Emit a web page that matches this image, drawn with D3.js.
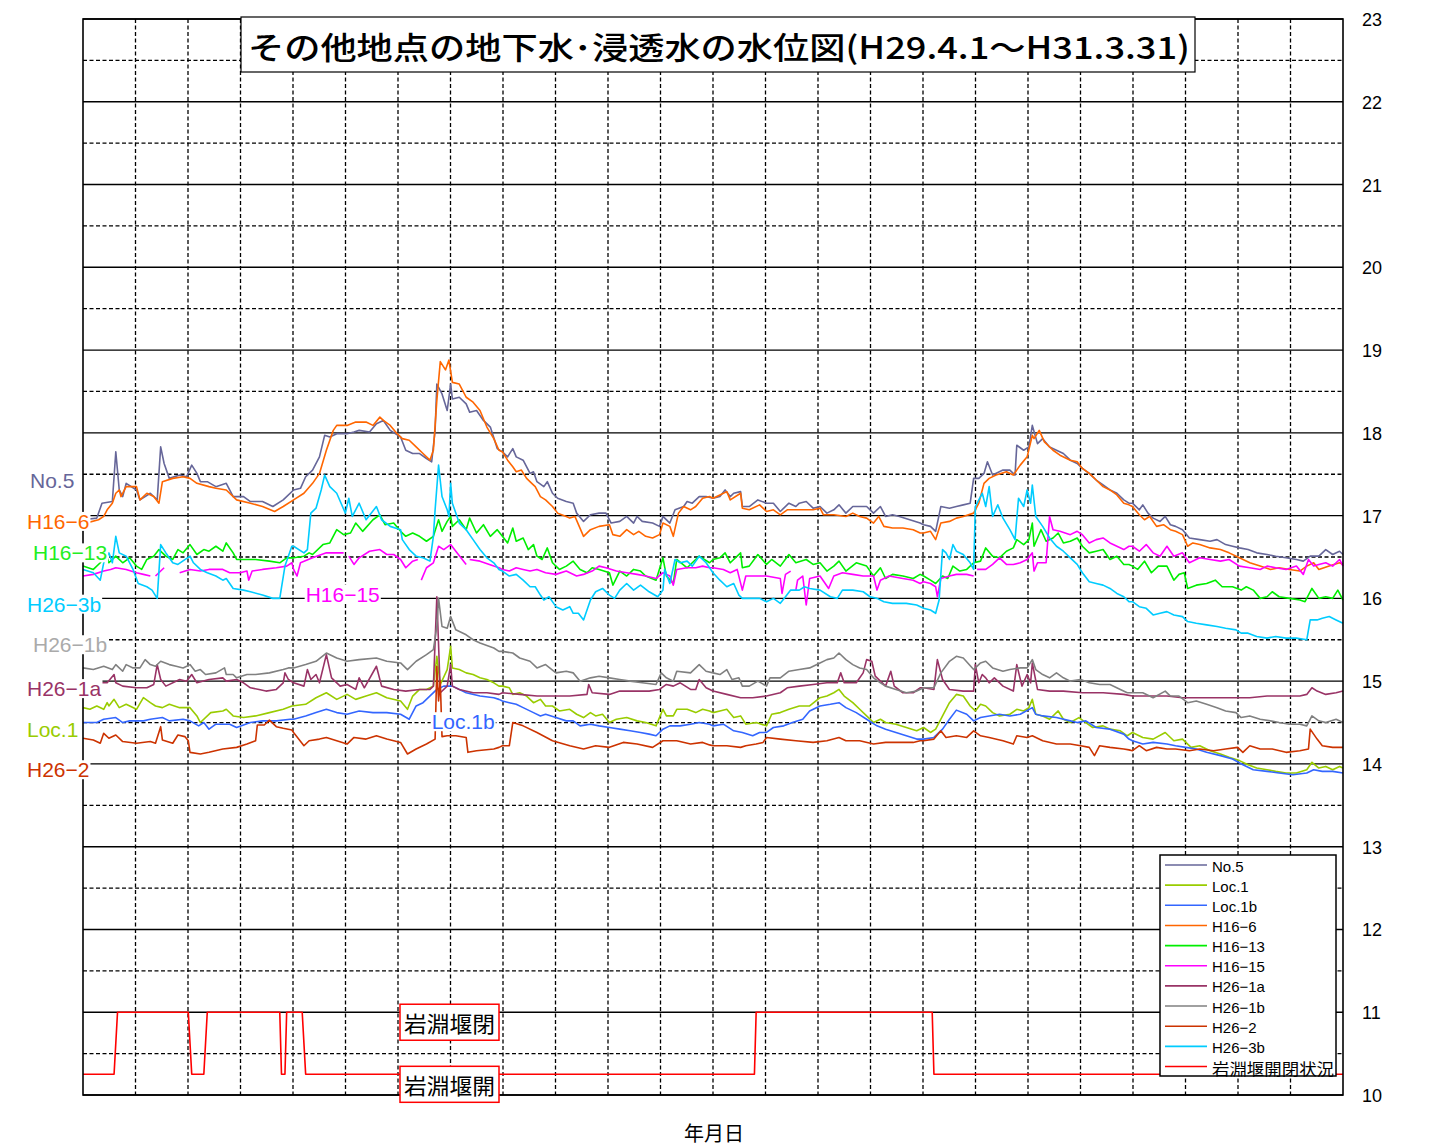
<!DOCTYPE html>
<html>
<head>
<meta charset="utf-8">
<script src="https://cdn.jsdelivr.net/npm/d3@7"></script>
<style>
body { margin: 0; background: #fff; }
</style>
</head>
<body>
<div id="chart"></div>
<script>
const width = 1430
const height = 1146

/* Period: H29.4.1 - H31.3.31, values are [days since 2017-04-01, water level (m)] */
const start = new Date(Date.UTC(2017, 3, 1))
const totalDays = 730

const no5 = [[0,16.95],[8,16.97],[11,17.15],[17,17.17],[19,17.77],[21,17.31],[23,17.23],[25,17.39],[31,17.31],[33,17.19],[39,17.27],[43,17.19],[45,17.83],[47,17.63],[50,17.45],[56,17.49],[60,17.47],[63,17.61],[66,17.51],[68,17.41],[72,17.41],[77,17.35],[83,17.39],[87,17.23],[93,17.23],[97,17.17],[104,17.17],[110,17.11],[116,17.19],[122,17.31],[126,17.33],[129,17.47],[133,17.55],[137,17.71],[140,17.97],[143,17.95],[147,17.99],[153,17.99],[157,18.01],[160,18.03],[166,18.01],[170,18.11],[174,18.15],[178,18.03],[184,17.95],[187,17.79],[191,17.75],[195,17.75],[199,17.69],[202,17.65],[204,18.03],[205,18.59],[208,18.47],[211,18.27],[213,18.59],[214,18.41],[218,18.43],[222,18.35],[224,18.25],[228,18.27],[232,18.15],[236,18.07],[240,17.81],[243,17.77],[246,17.71],[249,17.81],[251,17.71],[255,17.67],[259,17.51],[261,17.53],[263,17.41],[267,17.35],[269,17.41],[272,17.27],[275,17.21],[280,17.17],[284,17.15],[286,17.03],[290,16.93],[294,17.01],[299,17.03],[303,17.03],[306,16.91],[311,16.93],[315,16.99],[319,16.91],[321,16.99],[324,16.93],[330,16.91],[334,16.87],[336,16.99],[340,16.91],[343,17.07],[348,17.11],[350,17.17],[353,17.15],[357,17.23],[361,17.23],[365,17.21],[369,17.23],[372,17.31],[375,17.23],[377,17.27],[381,17.29],[382,17.11],[386,17.11],[391,17.19],[396,17.15],[400,17.15],[404,17.05],[409,17.15],[413,17.11],[415,17.15],[419,17.17],[423,17.09],[427,17.11],[431,17.03],[435,17.07],[438,17.13],[442,17.03],[446,17.11],[450,17.11],[454,17.11],[458,17.03],[462,17.11],[465,16.99],[469,17.01],[473,16.99],[479,16.95],[485,16.91],[487,16.89],[491,16.87],[494,16.81],[497,17.11],[502,17.09],[506,17.11],[510,17.13],[514,17.15],[516,17.45],[519,17.45],[522,17.51],[524,17.65],[527,17.49],[533,17.55],[537,17.55],[540,17.49],[541,17.85],[545,17.79],[548,17.83],[550,18.09],[553,17.87],[556,17.93],[560,17.83],[564,17.79],[568,17.75],[572,17.67],[576,17.63],[579,17.57],[583,17.51],[587,17.43],[591,17.37],[595,17.31],[599,17.27],[603,17.19],[606,17.15],[608,17.15],[612,17.07],[614,17.13],[617,17.03],[620,16.97],[624,16.93],[627,16.99],[630,16.89],[633,16.87],[637,16.83],[641,16.73],[647,16.71],[653,16.69],[657,16.71],[662,16.65],[666,16.63],[670,16.61],[675,16.59],[680,16.55],[686,16.53],[691,16.51],[697,16.49],[703,16.47],[707,16.45],[711,16.51],[716,16.51],[720,16.59],[724,16.53],[728,16.57],[730,16.53]]

const loc1 = [[0,14.68],[4,14.66],[8,14.7],[12,14.66],[14,14.74],[15,14.7],[18,14.78],[21,14.68],[25,14.72],[31,14.66],[35,14.8],[39,14.74],[42,14.7],[46,14.68],[50,14.72],[56,14.68],[62,14.68],[66,14.58],[68,14.5],[74,14.62],[81,14.64],[83,14.66],[87,14.58],[93,14.56],[100,14.58],[108,14.62],[116,14.66],[121,14.7],[129,14.72],[135,14.8],[141,14.86],[147,14.78],[153,14.84],[158,14.78],[164,14.82],[170,14.86],[176,14.8],[184,14.76],[188,14.66],[191,14.82],[195,14.9],[199,14.9],[203,14.94],[205,15.3],[207,14.96],[211,15.14],[213,15.42],[214,15.16],[218,15.14],[222,15.1],[226,15.08],[230,15.04],[234,15.02],[238,14.98],[241,14.94],[243,14.94],[247,14.92],[249,14.84],[253,14.86],[257,14.82],[261,14.74],[265,14.78],[268,14.7],[272,14.7],[276,14.64],[282,14.66],[286,14.6],[290,14.56],[294,14.62],[297,14.58],[301,14.6],[305,14.5],[309,14.54],[315,14.56],[321,14.52],[326,14.5],[332,14.46],[336,14.66],[338,14.58],[342,14.58],[344,14.66],[350,14.66],[355,14.62],[359,14.66],[363,14.64],[365,14.62],[369,14.64],[373,14.66],[377,14.56],[381,14.58],[384,14.48],[390,14.5],[396,14.46],[399,14.6],[404,14.62],[409,14.66],[415,14.7],[421,14.7],[427,14.8],[431,14.82],[435,14.86],[438,14.9],[441,14.82],[446,14.74],[450,14.66],[454,14.58],[458,14.5],[462,14.54],[465,14.5],[471,14.48],[477,14.44],[483,14.4],[487,14.44],[491,14.38],[494,14.42],[498,14.58],[502,14.74],[506,14.84],[510,14.82],[514,14.7],[517,14.64],[520,14.72],[523,14.7],[527,14.62],[531,14.58],[537,14.6],[541,14.66],[545,14.64],[548,14.68],[550,14.78],[552,14.6],[556,14.58],[560,14.54],[565,14.64],[568,14.54],[572,14.5],[577,14.56],[581,14.5],[585,14.44],[591,14.46],[595,14.42],[601,14.4],[605,14.34],[608,14.38],[614,14.32],[620,14.3],[627,14.38],[632,14.28],[637,14.3],[642,14.2],[647,14.22],[653,14.16],[659,14.12],[664,14.08],[670,14.04],[675,13.99],[680,13.95],[686,13.93],[691,13.91],[697,13.89],[703,13.89],[709,13.93],[712,14.02],[716,13.95],[720,13.97],[724,13.93],[728,13.97],[730,13.95]]

const loc1b = [[0,14.5],[8,14.5],[12,14.54],[19,14.56],[23,14.5],[27,14.52],[35,14.52],[39,14.54],[46,14.56],[50,14.52],[58,14.54],[62,14.52],[67,14.46],[70,14.5],[73,14.42],[77,14.48],[85,14.48],[89,14.44],[97,14.5],[104,14.52],[112,14.52],[120,14.54],[122,14.54],[129,14.58],[135,14.62],[141,14.66],[147,14.62],[153,14.6],[160,14.64],[168,14.62],[176,14.62],[184,14.6],[189,14.54],[193,14.7],[197,14.74],[205,14.9],[209,14.94],[214,14.94],[222,14.86],[230,14.82],[238,14.8],[241,14.78],[243,14.76],[247,14.74],[251,14.72],[255,14.68],[261,14.62],[265,14.58],[268,14.6],[274,14.56],[280,14.52],[284,14.52],[288,14.46],[294,14.48],[299,14.46],[305,14.44],[311,14.42],[317,14.4],[323,14.38],[328,14.36],[332,14.34],[336,14.42],[340,14.46],[346,14.46],[352,14.48],[357,14.5],[363,14.48],[365,14.46],[371,14.48],[377,14.4],[382,14.38],[388,14.34],[392,14.38],[396,14.38],[400,14.44],[406,14.46],[411,14.5],[417,14.54],[421,14.64],[427,14.7],[433,14.72],[438,14.74],[442,14.68],[448,14.62],[454,14.54],[460,14.46],[465,14.42],[471,14.38],[477,14.34],[483,14.3],[487,14.3],[493,14.32],[498,14.42],[502,14.54],[506,14.65],[512,14.6],[516,14.52],[520,14.56],[525,14.58],[531,14.6],[537,14.58],[543,14.6],[550,14.68],[552,14.6],[556,14.58],[564,14.56],[572,14.52],[576,14.5],[581,14.52],[587,14.44],[595,14.42],[603,14.36],[606,14.3],[608,14.28],[614,14.24],[620,14.26],[628,14.24],[633,14.22],[639,14.2],[645,14.18],[651,14.14],[659,14.1],[666,14.06],[672,13.99],[678,13.93],[686,13.91],[693,13.89],[701,13.87],[709,13.89],[713,13.93],[718,13.91],[724,13.91],[730,13.89]]

const h16_6 = [[0,16.9],[9,16.95],[12,16.99],[14,17.07],[17,17.15],[19,17.27],[21,17.31],[22,17.23],[25,17.35],[31,17.35],[33,17.19],[37,17.27],[41,17.23],[44,17.15],[46,17.41],[52,17.45],[58,17.47],[62,17.45],[66,17.39],[73,17.35],[77,17.33],[83,17.31],[89,17.19],[97,17.15],[104,17.11],[111,17.05],[116,17.11],[122,17.19],[128,17.27],[133,17.39],[137,17.51],[141,17.79],[145,18.03],[147,18.09],[153,18.09],[158,18.13],[164,18.13],[168,18.09],[172,18.19],[174,18.15],[178,18.09],[182,17.99],[185,17.93],[189,17.91],[193,17.83],[197,17.75],[201,17.67],[203,17.79],[205,18.39],[207,18.86],[210,18.76],[212,18.88],[214,18.61],[218,18.59],[222,18.43],[226,18.37],[230,18.27],[234,18.07],[238,17.93],[241,17.79],[243,17.77],[246,17.67],[249,17.59],[251,17.53],[254,17.55],[257,17.45],[260,17.39],[262,17.35],[265,17.23],[268,17.19],[272,17.11],[275,17.03],[280,16.99],[282,16.97],[285,16.99],[290,16.75],[294,16.83],[299,16.87],[305,16.89],[307,16.77],[311,16.75],[315,16.83],[319,16.77],[322,16.81],[326,16.75],[330,16.73],[334,16.77],[336,16.91],[340,16.87],[342,16.75],[345,17.03],[348,17.11],[352,17.07],[355,17.11],[359,17.21],[363,17.23],[365,17.21],[369,17.25],[373,17.29],[375,17.19],[381,17.27],[382,17.09],[386,17.07],[392,17.13],[396,17.05],[400,17.07],[404,17.01],[408,17.07],[413,17.07],[423,17.07],[427,17.09],[429,17.01],[435,17.01],[442,16.99],[446,17.03],[450,16.99],[454,16.97],[458,16.91],[461,16.99],[464,16.87],[469,16.85],[475,16.85],[481,16.83],[485,16.79],[487,16.79],[491,16.81],[494,16.71],[497,16.91],[502,16.93],[506,16.97],[510,16.99],[516,17.03],[519,17.15],[522,17.39],[525,17.45],[529,17.49],[535,17.53],[539,17.49],[543,17.61],[547,17.71],[550,17.97],[551,17.93],[554,18.03],[557,17.89],[562,17.79],[566,17.73],[572,17.67],[576,17.65],[579,17.57],[583,17.51],[587,17.43],[591,17.35],[595,17.31],[599,17.25],[603,17.15],[606,17.13],[608,17.11],[612,17.01],[615,16.95],[618,16.99],[622,16.87],[626,16.89],[630,16.83],[633,16.81],[637,16.77],[640,16.63],[643,16.67],[647,16.65],[653,16.61],[659,16.59],[664,16.55],[670,16.49],[676,16.43],[682,16.39],[688,16.35],[693,16.37],[699,16.35],[705,16.33],[709,16.39],[713,16.43],[716,16.35],[722,16.39],[728,16.43],[730,16.41]]

const h16_13 = [[0,16.39],[6,16.35],[10,16.43],[13,16.55],[15,16.43],[19,16.51],[23,16.43],[27,16.49],[31,16.39],[34,16.35],[37,16.47],[41,16.51],[44,16.59],[48,16.51],[52,16.47],[55,16.59],[58,16.55],[62,16.65],[66,16.53],[70,16.59],[73,16.57],[77,16.63],[81,16.57],[83,16.67],[87,16.55],[89,16.47],[93,16.47],[100,16.47],[108,16.45],[114,16.43],[118,16.49],[122,16.49],[128,16.51],[131,16.55],[133,16.53],[139,16.65],[143,16.67],[147,16.83],[151,16.77],[155,16.79],[158,16.91],[162,16.81],[168,16.95],[172,17.01],[175,16.89],[180,16.91],[184,16.81],[187,16.75],[191,16.79],[195,16.75],[199,16.69],[203,16.75],[206,16.95],[208,16.81],[211,16.93],[213,16.99],[214,16.87],[218,16.95],[222,16.83],[224,16.97],[228,16.79],[232,16.89],[236,16.75],[240,16.83],[243,16.75],[246,16.67],[249,16.85],[251,16.69],[255,16.73],[258,16.59],[261,16.65],[263,16.51],[266,16.47],[269,16.61],[272,16.43],[276,16.35],[280,16.39],[284,16.45],[288,16.35],[292,16.31],[295,16.37],[299,16.35],[305,16.31],[307,16.16],[311,16.33],[315,16.27],[319,16.35],[323,16.33],[326,16.27],[332,16.22],[336,16.49],[338,16.27],[342,16.18],[344,16.47],[350,16.37],[353,16.43],[357,16.51],[363,16.43],[365,16.47],[369,16.49],[372,16.55],[375,16.43],[381,16.55],[382,16.37],[386,16.39],[391,16.53],[396,16.41],[399,16.47],[404,16.39],[409,16.53],[413,16.43],[419,16.47],[423,16.41],[427,16.43],[431,16.33],[435,16.39],[438,16.45],[442,16.33],[448,16.43],[454,16.39],[458,16.27],[462,16.37],[465,16.24],[469,16.29],[475,16.27],[481,16.24],[485,16.29],[487,16.27],[491,16.22],[494,16.18],[498,16.27],[501,16.24],[504,16.39],[508,16.33],[512,16.35],[516,16.43],[520,16.45],[523,16.61],[527,16.51],[531,16.49],[535,16.57],[539,16.61],[541,16.71],[545,16.65],[548,16.71],[550,16.91],[551,16.63],[555,16.83],[558,16.69],[562,16.73],[565,16.79],[568,16.67],[572,16.69],[576,16.73],[579,16.63],[583,16.55],[587,16.57],[591,16.59],[595,16.47],[599,16.51],[603,16.41],[606,16.41],[608,16.39],[611,16.35],[615,16.45],[619,16.31],[623,16.39],[628,16.39],[632,16.22],[635,16.29],[638,16.31],[640,16.12],[645,16.16],[651,16.18],[656,16.22],[660,16.14],[666,16.14],[671,16.1],[674,16.14],[678,16.1],[682,16.0],[686,16.02],[689,16.08],[693,16.02],[699,16.0],[705,15.98],[708,15.96],[712,16.12],[716,16.0],[720,16.02],[724,16.0],[727,16.1],[730,15.98]]

/* null = missing record (gap in the line) */
const h16_15 = [[0,16.27],[6,16.29],[12,16.33],[16,16.35],[19,16.37],[25,16.35],[31,16.31],[35,16.29],[39,16.27],[40,null],[42,16.27],[47,16.37],[48,null],[56,16.31],[62,16.35],[68,16.33],[73,16.35],[81,16.35],[85,16.31],[91,16.31],[95,16.33],[96,16.22],[98,16.33],[104,16.35],[112,16.37],[118,16.39],[121,16.43],[122,16.35],[124,16.27],[126,16.43],[133,16.49],[141,16.55],[151,16.55],[152,null],[154,16.51],[157,16.41],[160,16.49],[166,16.57],[172,16.59],[176,16.53],[180,16.53],[184,16.47],[187,16.37],[191,16.45],[194,16.47],[195,null],[196,16.22],[199,16.37],[203,16.43],[206,16.63],[209,16.59],[213,16.65],[216,16.57],[222,16.41],[223,null],[224,16.47],[230,16.45],[238,16.39],[241,16.37],[243,16.35],[247,16.33],[251,16.37],[255,16.35],[259,16.33],[263,16.35],[268,16.31],[274,16.29],[280,16.33],[286,16.27],[290,16.29],[295,16.33],[299,16.39],[303,16.37],[309,16.33],[315,16.31],[321,16.29],[326,16.27],[332,16.24],[336,16.31],[340,16.27],[342,16.16],[344,16.35],[350,16.37],[355,16.37],[359,16.39],[363,16.37],[365,16.37],[371,16.35],[375,16.31],[379,16.35],[382,16.1],[384,16.27],[390,16.27],[396,16.27],[404,16.24],[405,16.06],[407,16.29],[410,16.33],[411,null],[413,16.1],[414,16.22],[417,16.27],[419,15.92],[421,16.24],[427,16.27],[432,16.12],[435,16.27],[440,16.31],[446,16.29],[452,16.27],[458,16.27],[460,16.1],[462,16.22],[467,16.27],[475,16.24],[481,16.22],[485,16.18],[487,16.2],[491,16.18],[494,16.14],[495,16.02],[497,16.24],[502,16.27],[506,16.29],[512,16.29],[516,16.27],[517,null],[518,16.35],[523,16.35],[527,16.41],[531,16.49],[535,16.41],[539,16.41],[543,16.43],[547,16.47],[550,16.55],[551,16.33],[553,16.43],[558,16.43],[560,16.99],[562,16.83],[566,16.81],[572,16.77],[576,16.81],[579,16.77],[583,16.67],[587,16.71],[591,16.73],[595,16.67],[599,16.63],[603,16.59],[606,16.63],[608,16.63],[612,16.57],[616,16.65],[620,16.55],[624,16.51],[628,16.63],[632,16.51],[637,16.55],[641,16.43],[647,16.49],[653,16.47],[659,16.45],[664,16.47],[670,16.39],[676,16.37],[682,16.35],[686,16.39],[691,16.37],[697,16.35],[703,16.39],[707,16.29],[710,16.47],[713,16.39],[716,16.41],[720,16.43],[724,16.39],[728,16.47],[730,16.39]]

const h26_1a = [[0,14.98],[14,14.98],[18,15.08],[19,14.98],[23,14.94],[31,14.92],[37,14.92],[41,14.96],[43,15.2],[45,15.02],[48,14.94],[56,15.02],[60,15.0],[63,15.08],[66,14.98],[73,15.02],[81,15.04],[83,15.0],[89,15.02],[93,14.98],[97,14.92],[102,14.9],[106,14.88],[112,14.9],[116,14.98],[117,15.1],[119,15.02],[122,14.98],[128,14.94],[130,15.14],[132,15.02],[135,15.08],[137,14.98],[141,15.32],[144,15.04],[149,14.94],[153,14.96],[158,14.9],[160,15.04],[163,14.92],[170,15.18],[173,14.94],[180,14.9],[187,14.88],[195,14.9],[201,14.9],[203,14.94],[205,16.02],[207,14.86],[211,14.94],[213,15.2],[214,14.94],[218,14.9],[226,14.86],[234,14.86],[241,14.84],[243,14.86],[253,14.84],[263,14.82],[272,14.82],[282,14.82],[292,14.84],[293,14.96],[295,14.86],[305,14.84],[311,14.88],[321,14.88],[328,14.88],[334,14.9],[338,14.96],[342,14.94],[346,14.98],[352,14.9],[355,14.9],[357,15.02],[361,14.92],[365,14.88],[373,14.84],[381,14.8],[388,14.8],[396,14.82],[404,14.86],[408,14.92],[415,14.94],[423,14.96],[431,14.98],[437,14.98],[439,15.1],[441,14.98],[448,14.98],[452,15.1],[454,15.26],[457,15.24],[459,15.06],[462,15.0],[465,14.94],[468,15.12],[470,14.94],[475,14.86],[481,14.86],[485,14.92],[487,14.92],[493,14.9],[495,15.26],[498,15.02],[502,14.9],[510,14.88],[516,14.88],[517,15.2],[519,14.98],[521,15.08],[523,15.04],[525,14.98],[528,15.04],[533,14.94],[539,14.88],[541,15.2],[544,14.94],[547,15.08],[549,14.98],[550,15.22],[553,14.9],[560,14.88],[568,14.88],[579,14.86],[591,14.86],[603,14.84],[608,14.82],[628,14.82],[637,14.8],[657,14.8],[676,14.8],[686,14.82],[705,14.82],[709,14.84],[712,14.92],[715,14.88],[720,14.84],[726,14.86],[730,14.88]]

const h26_1b = [[0,15.16],[6,15.14],[12,15.18],[17,15.14],[19,15.2],[23,15.12],[25,15.2],[29,15.16],[33,15.16],[36,15.26],[39,15.2],[42,15.18],[45,15.24],[50,15.2],[54,15.18],[58,15.16],[62,15.2],[65,15.12],[68,15.14],[71,15.08],[77,15.1],[82,15.16],[83,15.08],[87,15.08],[89,15.04],[95,15.08],[100,15.08],[108,15.1],[116,15.14],[119,15.16],[122,15.16],[129,15.2],[135,15.24],[141,15.34],[147,15.28],[153,15.24],[160,15.26],[170,15.28],[176,15.24],[184,15.22],[188,15.14],[193,15.24],[199,15.32],[203,15.38],[205,15.66],[206,16.0],[208,15.66],[211,15.64],[213,15.78],[216,15.62],[222,15.56],[226,15.5],[230,15.46],[238,15.4],[241,15.36],[243,15.36],[249,15.34],[253,15.28],[259,15.24],[263,15.16],[268,15.2],[274,15.1],[280,15.12],[284,15.1],[288,15.0],[294,15.04],[299,15.06],[305,15.04],[311,15.02],[317,15.0],[324,14.98],[332,14.96],[335,15.1],[338,15.04],[342,15.0],[344,15.12],[352,15.1],[357,15.2],[361,15.12],[365,15.1],[369,15.08],[373,15.14],[376,15.02],[380,15.04],[382,14.94],[386,14.94],[391,15.0],[396,14.94],[398,15.04],[404,15.04],[409,15.12],[415,15.14],[421,15.16],[427,15.22],[431,15.26],[435,15.28],[438,15.34],[442,15.26],[446,15.2],[450,15.16],[454,15.14],[458,15.04],[462,14.98],[465,14.94],[471,14.9],[477,14.86],[483,14.88],[487,14.92],[493,14.92],[497,15.1],[502,15.24],[506,15.3],[510,15.28],[516,15.14],[520,15.22],[523,15.24],[527,15.16],[533,15.12],[537,15.14],[543,15.16],[547,15.16],[550,15.26],[552,15.14],[556,15.08],[560,15.04],[564,15.1],[568,15.04],[572,15.0],[578,15.02],[583,14.98],[589,14.96],[595,14.96],[601,14.9],[605,14.86],[608,14.86],[614,14.86],[620,14.8],[627,14.88],[630,14.82],[635,14.82],[640,14.74],[645,14.76],[651,14.72],[657,14.68],[662,14.64],[668,14.62],[671,14.56],[676,14.58],[682,14.54],[688,14.52],[693,14.5],[699,14.48],[705,14.48],[709,14.46],[712,14.58],[716,14.52],[720,14.5],[726,14.54],[730,14.5]]

const h26_2 = [[0,14.31],[6,14.29],[10,14.25],[12,14.37],[15,14.31],[19,14.35],[23,14.27],[31,14.25],[39,14.27],[42,14.25],[45,14.45],[46,14.29],[52,14.25],[55,14.35],[59,14.33],[61,14.28],[62,14.14],[68,14.12],[73,14.14],[81,14.18],[89,14.2],[95,14.24],[100,14.28],[101,14.47],[105,14.47],[108,14.53],[112,14.45],[116,14.43],[121,14.41],[122,14.38],[128,14.22],[131,14.28],[137,14.3],[141,14.32],[147,14.28],[153,14.24],[157,14.32],[164,14.3],[170,14.34],[176,14.3],[184,14.26],[188,14.12],[193,14.18],[199,14.24],[204,14.3],[205,15.18],[206,14.76],[207,15.0],[208,14.33],[211,14.34],[216,14.34],[222,14.32],[223,14.14],[228,14.16],[238,14.18],[241,14.2],[243,14.22],[247,14.22],[249,14.5],[255,14.46],[263,14.38],[272,14.28],[282,14.22],[290,14.18],[297,14.22],[305,14.2],[313,14.26],[321,14.24],[330,14.2],[336,14.28],[344,14.28],[352,14.24],[359,14.26],[363,14.23],[365,14.22],[373,14.22],[381,14.2],[384,14.22],[390,14.24],[394,14.26],[396,14.32],[404,14.3],[413,14.28],[423,14.26],[431,14.28],[438,14.32],[442,14.28],[450,14.28],[458,14.24],[465,14.26],[473,14.26],[481,14.26],[485,14.28],[487,14.28],[493,14.3],[497,14.4],[500,14.32],[506,14.34],[512,14.32],[516,14.4],[520,14.34],[525,14.32],[533,14.28],[539,14.24],[541,14.34],[547,14.32],[550,14.34],[556,14.28],[564,14.24],[572,14.24],[578,14.22],[583,14.2],[586,14.1],[589,14.22],[595,14.2],[603,14.18],[606,14.17],[608,14.16],[612,14.22],[616,14.16],[622,14.2],[628,14.18],[633,14.18],[641,14.16],[647,14.18],[655,14.16],[662,14.18],[669,14.2],[672,14.14],[676,14.22],[682,14.18],[689,14.18],[697,14.14],[705,14.16],[710,14.18],[711,14.42],[715,14.3],[718,14.22],[724,14.2],[730,14.2]]

const h26_3b = [[0,16.35],[6,16.31],[10,16.22],[12,16.43],[15,16.55],[17,16.43],[19,16.75],[21,16.55],[25,16.51],[29,16.35],[32,16.18],[37,16.14],[40,16.1],[43,16.0],[45,16.65],[48,16.55],[52,16.43],[55,16.41],[62,16.51],[64,16.43],[68,16.35],[72,16.31],[77,16.27],[81,16.22],[83,16.24],[87,16.12],[93,16.1],[97,16.08],[104,16.04],[110,16.0],[114,16.0],[117,16.39],[121,16.63],[122,16.63],[128,16.55],[130,16.59],[132,17.03],[135,17.09],[138,17.31],[140,17.49],[143,17.35],[147,17.27],[152,17.03],[154,17.21],[156,16.99],[160,17.15],[164,16.95],[170,17.11],[173,16.95],[178,16.87],[184,16.83],[185,16.71],[189,16.59],[193,16.51],[197,16.49],[201,16.45],[203,16.75],[204,17.07],[206,17.61],[208,17.23],[211,17.07],[212,16.99],[213,17.39],[214,17.15],[218,16.91],[222,16.83],[226,16.71],[230,16.59],[234,16.49],[238,16.43],[241,16.35],[243,16.33],[247,16.27],[251,16.29],[255,16.22],[259,16.14],[262,16.14],[265,16.04],[267,15.98],[270,16.02],[274,15.9],[278,15.86],[282,15.9],[284,15.82],[287,15.82],[290,15.74],[294,15.98],[297,16.08],[301,16.12],[305,16.04],[308,16.0],[311,16.1],[315,16.18],[319,16.1],[323,16.16],[328,16.08],[333,16.02],[336,16.1],[337,16.35],[340,16.18],[343,16.47],[346,16.43],[350,16.45],[353,16.39],[357,16.51],[361,16.43],[365,16.31],[369,16.22],[373,16.14],[377,16.18],[380,16.04],[382,16.0],[386,16.0],[392,16.0],[396,15.96],[400,16.0],[404,15.94],[407,16.02],[410,16.1],[415,16.1],[418,16.14],[421,16.12],[427,16.1],[433,16.02],[437,16.0],[440,16.1],[446,16.1],[452,16.08],[456,16.02],[460,16.0],[464,15.96],[469,15.94],[477,15.94],[483,15.92],[487,15.88],[491,15.86],[494,15.82],[496,15.98],[498,16.59],[500,16.55],[502,16.47],[504,16.65],[506,16.57],[510,16.53],[514,16.43],[516,16.35],[517,17.11],[519,17.19],[521,17.27],[523,17.11],[525,17.35],[527,16.99],[530,17.13],[533,16.97],[537,16.83],[540,16.71],[542,17.21],[545,17.11],[547,17.31],[549,17.15],[550,17.37],[552,16.99],[556,16.87],[560,16.73],[564,16.63],[568,16.57],[572,16.49],[576,16.41],[579,16.31],[583,16.2],[587,16.18],[591,16.16],[595,16.12],[599,16.06],[603,16.02],[606,15.96],[608,15.96],[612,15.9],[616,15.88],[620,15.8],[624,15.82],[628,15.84],[632,15.8],[637,15.78],[640,15.72],[645,15.7],[651,15.68],[657,15.66],[662,15.64],[668,15.62],[671,15.58],[675,15.58],[680,15.54],[686,15.52],[691,15.54],[697,15.52],[703,15.52],[709,15.5],[711,15.74],[715,15.74],[718,15.76],[722,15.78],[726,15.74],[730,15.7]]

/* Iwabuchi weir: 11 = closed, 10.25 = open */
const gate = [[0,10.25],[18,10.25],[20,11],[61,11],[63,10.25],[70,10.25],[72,11],[114,11],[115,10.25],[117,10.25],[118,11],[127,11],[129,10.25],[389,10.25],[390,11],[492,11],[493,10.25],[730,10.25]]

const seriesNames = ['No.5', 'Loc.1', 'Loc.1b', 'H16−6', 'H16−13', 'H16−15', 'H26−1a', 'H26−1b', 'H26−2', 'H26−3b', '岩淵堰開閉状況']
const seriesValues = [no5, loc1, loc1b, h16_6, h16_13, h16_15, h26_1a, h26_1b, h26_2, h26_3b, gate]
const seriesColors = ['#666699', '#99cc00', '#3366ff', '#ff6600', '#00ee00', '#ff00ff', '#993366', '#808080', '#cc3300', '#00ccff', '#ff0000']

const yTicks = d3.range(10, 24)

/* Series name labels: left column [name, colour, left px, level], in-plot [name, colour, day, level] */
const sideLabels = [
    ['No.5', '#666699', 30, 17.42],
    ['H16−6', '#ff6600', 27, 16.93],
    ['H16−13', '#22ee22', 33, 16.55],
    ['H26−3b', '#00ccff', 27, 15.93],
    ['H26−1b', '#aaaaaa', 33, 15.44],
    ['H26−1a', '#993366', 27, 14.91],
    ['Loc.1', '#99cc00', 27, 14.42],
    ['H26−2', '#cc3300', 27, 13.93]
]
const inlineLabels = [
    ['H16−15', '#ff00ff', 129, 16.05],
    ['Loc.1b', '#3366ff', 202, 14.51]
]
const gateLabels = [['岩淵堰閉', 11.0], ['岩淵堰開', 10.25]]

/* Scales */
const margin = { left: 83, right: 87, top: 19, bottom: 51 }
const end = d3.utcDay.offset(start, totalDays)
const toDate = d => d3.utcDay.offset(start, d)

const x = d3.scaleUtc().domain([start, end]).range([margin.left, width - margin.right])
const y = d3.scaleLinear().domain([10, 23]).range([height - margin.bottom, margin.top])

const svg = d3.select('#chart').append('svg').attr('width', width).attr('height', height)
    .style('font-family', '"Liberation Sans", Arial, "Noto Sans CJK JP", sans-serif')

/* Grid */
const grid = svg.append('g')
const monthLines = d3.range(1, 24).map(i => new Date(+start + i * (end - start) / 24))

grid.selectAll('line.v')
    .data(monthLines)
    .join('line')
    .attr('class', 'v')
    .attr('x1', d => x(d)).attr('x2', d => x(d))
    .attr('y1', y(23)).attr('y2', y(10))
    .attr('stroke', '#000')
    .attr('stroke-width', 1.3)
    .attr('stroke-dasharray', '4,2.5')

grid.selectAll('line.half')
    .data(d3.range(10.5, 23, 1))
    .join('line')
    .attr('class', 'half')
    .attr('x1', x(start)).attr('x2', x(end))
    .attr('y1', d => y(d)).attr('y2', d => y(d))
    .attr('stroke', '#000')
    .attr('stroke-width', 1.3)
    .attr('stroke-dasharray', '4,2.5')

grid.selectAll('line.h')
    .data(yTicks)
    .join('line')
    .attr('class', 'h')
    .attr('x1', x(start)).attr('x2', x(end))
    .attr('y1', d => y(d)).attr('y2', d => y(d))
    .attr('stroke', '#000')
    .attr('stroke-width', 1.4)

/* Right value labels */
svg.append('g')
    .selectAll('text')
    .data(yTicks)
    .join('text')
    .attr('x', x(end) + 19)
    .attr('y', d => y(d) + 1)
    .attr('dominant-baseline', 'central')
    .attr('font-size', 18)
    .text(d => d)

/* Lines */
const line = d3.line()
    .defined(d => d[1] != null)
    .x(d => x(toDate(d[0])))
    .y(d => y(d[1]))

svg.append('g')
    .selectAll('path')
    .data(seriesValues)
    .join('path')
    .attr('d', d => line(d))
    .attr('fill', 'none')
    .attr('stroke', (d, i) => seriesColors[i])
    .attr('stroke-width', 1.6)
    .attr('stroke-linejoin', 'round')

/* Plot frame */
svg.append('rect')
    .attr('x', x(start)).attr('y', y(23))
    .attr('width', x(end) - x(start)).attr('height', y(10) - y(23))
    .attr('fill', 'none')
    .attr('stroke', '#000')
    .attr('stroke-width', 1.6)

/* Name labels with white background */
function addLabel(g, text, color, px, level, size) {
    const t = g.append('text')
        .attr('x', px)
        .attr('y', y(level))
        .attr('dominant-baseline', 'central')
        .attr('font-size', size)
        .attr('fill', color)
        .text(text)
    const b = t.node().getBBox()
    g.insert('rect', () => t.node())
        .attr('x', b.x - 1).attr('y', b.y + 2)
        .attr('width', b.width + 2).attr('height', b.height - 4)
        .attr('fill', '#fff')
}
const labels = svg.append('g')
sideLabels.forEach(d => addLabel(labels, d[0], d[1], d[2], d[3], 21))
inlineLabels.forEach(d => addLabel(labels, d[0], d[1], x(toDate(d[2])), d[3], 21))

/* Weir status boxes */
const gateBoxes = svg.append('g')
gateLabels.forEach(d => {
    const cy = y(d[1]) + 10
    gateBoxes.append('rect')
        .attr('x', 400).attr('y', cy - 18)
        .attr('width', 99).attr('height', 36)
        .attr('fill', '#fff')
        .attr('stroke', '#ff0000')
        .attr('stroke-width', 1.5)
    gateBoxes.append('text')
        .attr('x', 404).attr('y', cy)
        .attr('dominant-baseline', 'central')
        .attr('font-family', '"Noto Sans CJK JP", sans-serif')
        .attr('font-size', 22)
        .attr('textLength', 91)
        .attr('lengthAdjust', 'spacingAndGlyphs')
        .text(d[0])
})

/* Title */
svg.append('rect')
    .attr('x', 241).attr('y', 17)
    .attr('width', 954).attr('height', 55)
    .attr('fill', '#fff')
    .attr('stroke', '#000')
    .attr('stroke-width', 1.2)
svg.append('text')
    .attr('x', 248).attr('y', 45)
    .attr('dominant-baseline', 'central')
    .attr('font-family', '"Noto Sans CJK JP", sans-serif')
    .attr('font-weight', 500)
    .attr('font-size', 31)
    .attr('textLength', 942)
    .attr('lengthAdjust', 'spacingAndGlyphs')
    .text('その他地点の地下水･浸透水の水位図(H29.4.1～H31.3.31)')

/* X axis title */
svg.append('text')
    .attr('x', 714).attr('y', 1132)
    .attr('text-anchor', 'middle')
    .attr('dominant-baseline', 'central')
    .attr('font-family', '"Noto Sans CJK JP", sans-serif')
    .attr('font-size', 20)
    .text('年月日')

/* Legend */
const legend = svg.append('g').attr('transform', 'translate(1160,855)')
legend.append('rect')
    .attr('width', 176).attr('height', 221)
    .attr('fill', '#fff')
    .attr('stroke', '#000')
    .attr('stroke-width', 1.5)
const items = legend.selectAll('g.item')
    .data(seriesNames)
    .join('g')
    .attr('class', 'item')
    .attr('transform', (d, i) => `translate(0,${10 + i * 20.15})`)
items.append('line')
    .attr('x1', 5).attr('x2', 47)
    .attr('stroke', (d, i) => seriesColors[i])
    .attr('stroke-width', 1.6)
items.append('text')
    .attr('x', 52)
    .attr('y', 1)
    .attr('dominant-baseline', 'central')
    .attr('font-size', 15)
    .each(function (d, i) {
        if (i === seriesNames.length - 1) {
            d3.select(this).attr('font-family', '"Noto Sans CJK JP", sans-serif')
                .attr('font-size', 16)
                .attr('textLength', 122)
                .attr('lengthAdjust', 'spacingAndGlyphs')
        }
    })
    .text(d => d)
</script>
</body>
</html>
